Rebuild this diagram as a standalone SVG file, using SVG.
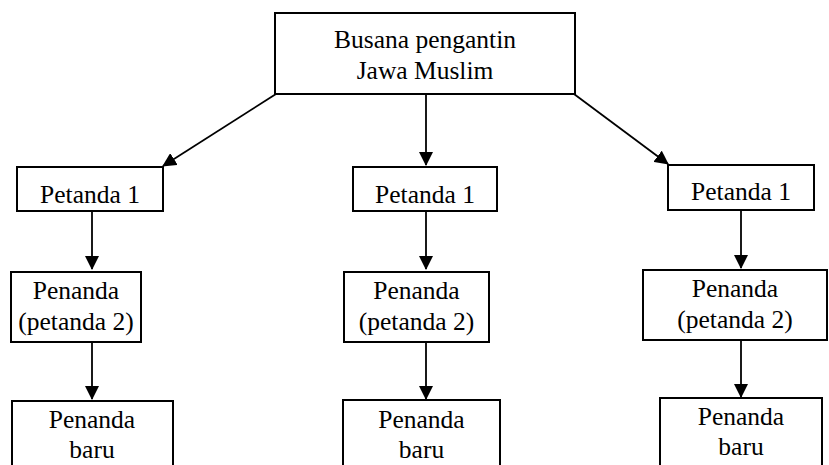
<svg xmlns="http://www.w3.org/2000/svg" width="829" height="465" viewBox="0 0 829 465">
<defs>
<marker id="ah" markerWidth="18" markerHeight="14" refX="13" refY="7" orient="auto" markerUnits="userSpaceOnUse">
<path d="M0,0 L14,7 L0,14 Z" fill="#000"/>
</marker>
<style>
.box{fill:#fff;stroke:#000;stroke-width:2}
.t{font-family:"Liberation Serif","Times New Roman",serif;font-size:25.5px;fill:#000;text-anchor:middle}
.c{stroke:#000;stroke-width:1.8;fill:none;marker-end:url(#ah)}
</style>
</defs>
<rect width="829" height="465" fill="#fff"/>
<g id="connectors">
<line class="c" x1="276" y1="94" x2="163" y2="166"/>
<line class="c" x1="426" y1="94" x2="426" y2="165"/>
<line class="c" x1="574" y1="94" x2="668" y2="164"/>
<line class="c" x1="92" y1="211" x2="92" y2="269"/>
<line class="c" x1="92" y1="342" x2="92" y2="399"/>
<line class="c" x1="426" y1="211" x2="426" y2="269"/>
<line class="c" x1="426" y1="342" x2="426" y2="399"/>
<line class="c" x1="741" y1="210" x2="741" y2="268"/>
<line class="c" x1="741" y1="340" x2="741" y2="397"/>
</g>
<g id="root">
<rect class="box" x="275" y="13" width="300" height="81"/>
<text class="t" x="425" y="48">Busana pengantin</text>
<text class="t" x="425" y="79">Jawa Muslim</text>
</g>
<g id="petanda1-left">
<rect class="box" x="17" y="167" width="146" height="44"/>
<text class="t" x="90" y="203">Petanda 1</text>
</g>
<g id="penanda-left">
<rect class="box" x="11" y="272" width="130" height="70"/>
<text class="t" x="76" y="299">Penanda</text>
<text class="t" x="76" y="330">(petanda 2)</text>
</g>
<g id="baru-left">
<rect class="box" x="12" y="401" width="161" height="70"/>
<text class="t" x="92" y="428">Penanda</text>
<text class="t" x="92" y="458">baru</text>
</g>
<g id="petanda1-mid">
<rect class="box" x="353" y="167" width="144" height="44"/>
<text class="t" x="425" y="203">Petanda 1</text>
</g>
<g id="penanda-mid">
<rect class="box" x="344" y="272" width="145" height="70"/>
<text class="t" x="416.5" y="299">Penanda</text>
<text class="t" x="416.5" y="330">(petanda 2)</text>
</g>
<g id="baru-mid">
<rect class="box" x="343" y="400" width="157" height="70"/>
<text class="t" x="421.5" y="428">Penanda</text>
<text class="t" x="421.5" y="458">baru</text>
</g>
<g id="petanda1-right">
<rect class="box" x="668" y="165" width="146" height="45"/>
<text class="t" x="741" y="200">Petanda 1</text>
</g>
<g id="penanda-right">
<rect class="box" x="643" y="270" width="184" height="70"/>
<text class="t" x="735" y="297">Penanda</text>
<text class="t" x="735" y="328">(petanda 2)</text>
</g>
<g id="baru-right">
<rect class="box" x="660" y="398" width="162" height="70"/>
<text class="t" x="741" y="425">Penanda</text>
<text class="t" x="741" y="455">baru</text>
</g>
</svg>
